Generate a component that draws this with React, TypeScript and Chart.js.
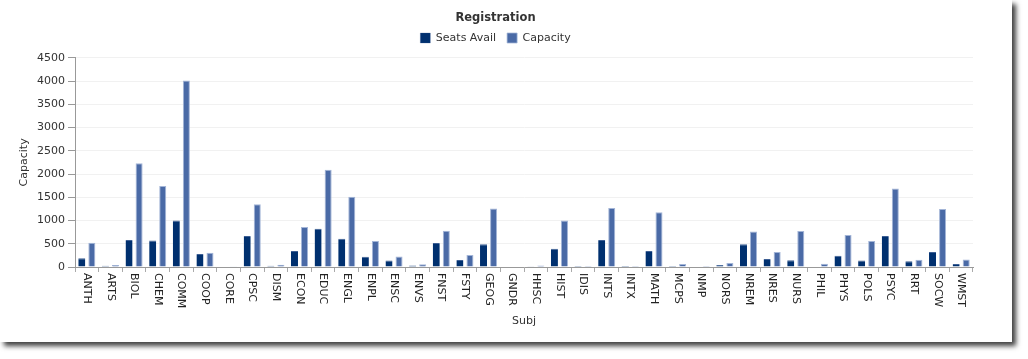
import React, { useEffect, useRef } from "react";
import { Chart, registerables } from "chart.js";

Chart.register(...registerables);

const categories = [
  "ANTH", "ARTS", "BIOL", "CHEM", "COMM", "COOP", "CORE", "CPSC", "DISM", "ECON",
  "EDUC", "ENGL", "ENPL", "ENSC", "ENVS", "FNST", "FSTY", "GEOG", "GNDR", "HHSC",
  "HIST", "IDIS", "INTS", "INTX", "MATH", "MCPS", "NMP", "NORS", "NREM", "NRES",
  "NURS", "PHIL", "PHYS", "POLS", "PSYC", "RRT", "SOCW", "WMST",
];

const seatsAvail = [
  190, 25, 580, 570, 1000, 280, 10, 665, 25, 345,
  820, 605, 220, 140, 30, 515, 150, 490, 0, 15,
  390, 20, 580, 8, 345, 20, 0, 45, 490, 170,
  145, 0, 240, 140, 665, 125, 320, 65,
];

const capacity = [
  520, 45, 2230, 1740, 4010, 305, 15, 1350, 50, 860,
  2090, 1510, 560, 225, 60, 780, 260, 1260, 10, 30,
  1000, 20, 1270, 20, 1180, 65, 20, 85, 765, 320,
  775, 70, 690, 560, 1690, 155, 1250, 160,
];

const yMin = 0;
const yMax = 4500;
const yStep = 500;

const FONT = "'DejaVu Sans', Verdana, sans-serif";

const verticalLabels = {
  id: "verticalLabels",
  afterDraw(chart: any) {
    const xs = chart.scales.x;
    const ctx = chart.ctx;
    ctx.save();
    ctx.font = `11px ${FONT}`;
    ctx.fillStyle = "#222";
    ctx.textAlign = "left";
    ctx.textBaseline = "middle";
    const y = chart.chartArea.bottom + 6;
    categories.forEach((lab, i) => {
      const x = xs.getPixelForTick(i);
      ctx.save();
      ctx.translate(x, y);
      ctx.rotate(Math.PI / 2);
      ctx.fillText(lab, 0, 0);
      ctx.restore();
    });
    ctx.restore();
  },
};

export default function App() {
  const ref = useRef<HTMLCanvasElement>(null);
  useEffect(() => {
    if (!ref.current) return;
    const chart = new Chart(ref.current, {
      type: "bar",
      data: {
        labels: categories,
        datasets: [
          {
            label: "Seats Avail",
            data: seatsAvail,
            backgroundColor: "#00306F",
            borderColor: "#3D5F94",
            borderWidth: { top: 1, left: 0, right: 0, bottom: 0 },
            categoryPercentage: 0.85,
            barPercentage: 0.7,
          },
          {
            label: "Capacity",
            data: capacity,
            backgroundColor: "#4A6AA6",
            borderColor: "#A3B5D7",
            borderWidth: { top: 1, left: 1, right: 1, bottom: 0 },
            categoryPercentage: 0.85,
            barPercentage: 0.7,
          },
        ],
      },
      options: {
        animation: false,
        responsive: false,
        maintainAspectRatio: false,
        layout: { padding: { top: 0, left: 18, right: 39, bottom: 5 } },
        plugins: {
          title: {
            display: true,
            text: "Registration",
            color: "#333",
            font: { family: FONT, size: 11.5, weight: "bold", lineHeight: 0.5 },
            padding: { top: 15.1, bottom: 0.65 },
          },
          subtitle: {
            display: true,
            text: "",
            weight: 500,
            font: { size: 1, lineHeight: 1 },
            padding: { top: 0, bottom: 3.25 },
          } as any,
          legend: {
            display: true,
            position: "top",
            labels: {
              boxWidth: 10,
              boxHeight: 10,
              padding: 11,
              color: "#333",
              font: { family: FONT, size: 11 },
            },
          },
          tooltip: { enabled: false },
        },
        scales: {
          x: {
            offset: true,
            grid: {
              display: true,
              offset: true,
              drawOnChartArea: false,
              drawTicks: true,
              tickLength: 5,
              tickColor: "#aaa",
            },
            border: { display: true, color: "#999" },
            ticks: {
              color: "rgba(0,0,0,0)",
              autoSkip: false,
              minRotation: 90,
              maxRotation: 90,
              font: { family: FONT, size: 11 },
            },
            title: {
              display: true,
              text: "Subj",
              color: "#333",
              font: { family: FONT, size: 11 },
              padding: { top: 0, bottom: 9.4 },
            },
            afterFit(scale: any) {
              scale.height = 70;
            },
          },
          y: {
            min: yMin,
            max: yMax,
            grid: {
              color: "#f1f1f1",
              tickColor: "#999",
              tickLength: 7,
            },
            border: { display: true, color: "#999" },
            ticks: {
              stepSize: yStep,
              padding: 3,
              color: "#333",
              font: { family: FONT, size: 11 },
              callback: (v: any) => String(v),
            },
            title: {
              display: true,
              text: "Capacity",
              color: "#333",
              font: { family: FONT, size: 11 },
              padding: { top: 0, bottom: 0 },
            },
            afterFit(scale: any) {
              scale.width = 57;
            },
          },
        },
      } as any,
      plugins: [verticalLabels],
    });
    return () => chart.destroy();
  }, []);

  return (
    <div
      style={{
        position: "absolute",
        left: 0,
        top: 0,
        width: 1012,
        height: 342,
        background: "#fff",
        boxShadow: "4px 4px 5px rgba(0,0,0,0.75)",
      }}
    >
      <canvas ref={ref} width={1012} height={342} style={{ display: "block", width: 1012, height: 342 }} />
    </div>
  );
}
